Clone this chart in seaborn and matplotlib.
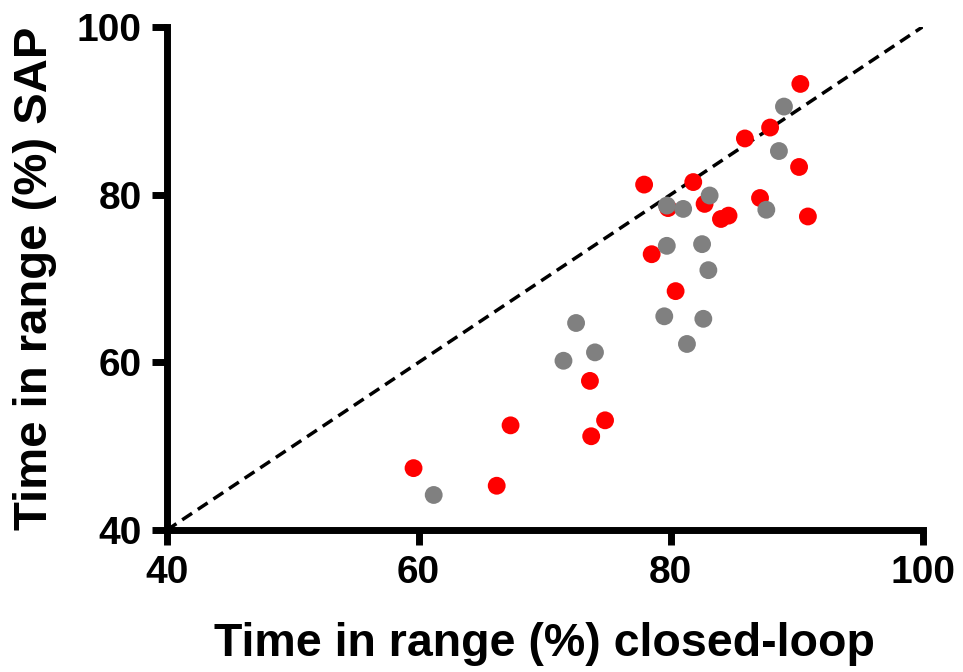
import seaborn as sns
import matplotlib.pyplot as plt
import pandas as pd

# time in range (%) per participant, closed-loop (x) vs SAP (y)
red_x = [59.6, 66.2, 67.3, 73.6, 73.7, 74.8, 77.9, 78.5, 79.8, 80.4,
         81.8, 82.7, 84.0, 84.6, 85.9, 87.1, 87.9, 90.3, 90.2, 90.9]
red_y = [47.4, 45.3, 52.5, 57.8, 51.2, 53.1, 81.2, 72.9, 78.4, 68.5,
         81.5, 78.9, 77.1, 77.5, 86.7, 79.6, 88.0, 93.2, 83.3, 77.4]

gray_x = [61.2, 71.5, 72.5, 74.0, 79.7, 79.7, 79.5, 81.0, 83.1, 82.5,
          83.0, 82.6, 81.3, 88.6, 87.6, 89.0]
gray_y = [44.2, 60.2, 64.7, 61.2, 78.7, 73.9, 65.5, 78.3, 79.9, 74.1,
          71.0, 65.2, 62.2, 85.2, 78.2, 90.5]

df = pd.concat([
    pd.DataFrame({'closed_loop': red_x, 'sap': red_y, 'group': 'red'}),
    pd.DataFrame({'closed_loop': gray_x, 'sap': gray_y, 'group': 'gray'}),
])

sns.set_style('ticks', {'axes.edgecolor': 'black', 'text.color': 'black',
                        'axes.labelcolor': 'black', 'xtick.color': 'black',
                        'ytick.color': 'black'})
plt.rcParams['font.family'] = ['Liberation Sans', 'DejaVu Sans']
plt.rcParams['font.weight'] = 'bold'

fig = plt.figure(figsize=(9.63, 6.72), dpi=100)
ax = fig.add_axes([0.173, 0.211, 0.785, 0.749])

ax.plot([40, 100], [40, 100], ls=(0, (3.4, 2.0)), color='black', lw=2.5, zorder=1)
sns.scatterplot(data=df, x='closed_loop', y='sap', hue='group',
                hue_order=['gray', 'red'],
                palette={'red': '#ff0000', 'gray': '#808080'},
                s=165, linewidth=0, legend=False, ax=ax, zorder=2)

ax.set_xlim(40, 100)
ax.set_ylim(40, 100)
ax.set_xticks([40, 60, 80, 100])
ax.set_yticks([40, 60, 80, 100])
ax.set_xlabel('Time in range (%) closed-loop', fontsize=33.5, fontweight='bold', labelpad=22)
ax.set_ylabel('Time in range (%) SAP', fontsize=34, fontweight='bold', labelpad=14)
ax.tick_params(labelsize=28, width=5, length=11, pad=7, colors='black')
for lbl in ax.get_xticklabels() + ax.get_yticklabels():
    lbl.set_fontweight('bold')
sns.despine(ax=ax)
for sp in ['left', 'bottom']:
    ax.spines[sp].set_linewidth(5)
    ax.spines[sp].set_color('black')

plt.savefig('out.png', dpi=100)
